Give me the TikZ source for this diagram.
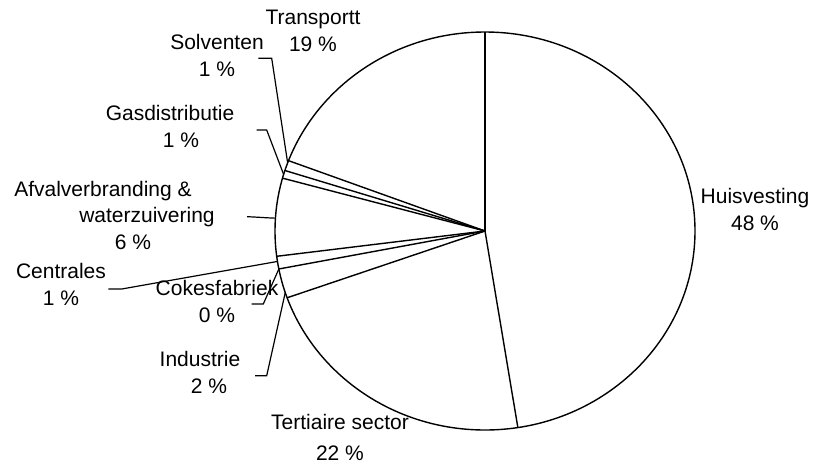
\documentclass[tikz,border=0pt]{standalone}
\usepackage{fontspec}
\setmainfont{Liberation Sans}
\begin{document}
\begin{tikzpicture}[
		x=0.5pt, y=0.5pt,
		lbl/.style = {align=center, anchor=base, inner sep=0pt, font=\fontsize{10.5}{13.25}\selectfont},
		pie/.style = {line width=0.7pt, line join=round},
		lead/.style = {line width=0.6pt},
	]
	\path[use as bounding box] (0,0) rectangle (814,463);
	\coordinate (C) at (485,232);
	\draw[pie] (C) ellipse [x radius=210, y radius=199];
	\foreach \a in {90,-81,-160.4,-169,-172.7,164.6,162.3,159.3}
		\draw[pie] (C) -- ++(\a:210 and 199);
	% labels (anchored on the baseline of their last line)
	\node[lbl] (huis) at (755,233) {Huisvesting\\48 \%};
	\node[lbl] (tert) at (340,3) {Tertiaire sector\\[2pt]22 \%};
	\node[lbl] (indus) at (209,70) {Industrie\hspace*{9pt}\\2 \%};
	\node[lbl] (cokes) at (217,141) {Cokesfabriek\\0 \%};
	\node[lbl] (centr) at (61,158) {Centrales\\1 \%};
	\node[lbl] (afval) at (133,214) {Afvalverbranding \&\hspace*{30pt}\\\hspace*{14pt}waterzuivering\\6 \%};
	\node[lbl] (gas) at (181,316) {Gasdistributie\hspace*{11pt}\\1 \%};
	\node[lbl] (solv) at (217,387) {Solventen\\1 \%};
	\node[lbl] (trans) at (313,412) {Transportt\\19 \%};
	% leader lines
	\path (C) ++(160:210 and 199) coordinate (solvE);
	\path (C) ++(163.5:210 and 199) coordinate (gasE);
	\path (C) ++(176.3:210 and 199) coordinate (afvalE);
	\path (C) ++(-171.2:210 and 199) coordinate (centrE);
	\path (C) ++(-169:210 and 199) coordinate (cokesE);
	\path (C) ++(-162:210 and 199) coordinate (indusE);
	\coordinate (solvA) at (258.3,404.7);
	\coordinate (gasA) at (256.7,333);
	\coordinate (afvalA) at (247,246.3);
	\coordinate (centrA) at (108.3,174);
	\coordinate (cokesA) at (251.7,159);
	\coordinate (indusA) at (255,87.3);
	\draw[lead] (solvA) -- ++(13.4,0) -- (solvE);
	\draw[lead] (gasA) -- ++(10,0) -- (gasE);
	\draw[lead] (afvalA) to[out=-2,in=178] (afvalE);
	\draw[lead] (centrA) -- ++(13.4,0) -- (centrE);
	\draw[lead] (cokesA) -- ++(11.6,0) -- (cokesE);
	\draw[lead] (indusA) -- ++(11.7,0) -- (indusE);
\end{tikzpicture}
\end{document}
